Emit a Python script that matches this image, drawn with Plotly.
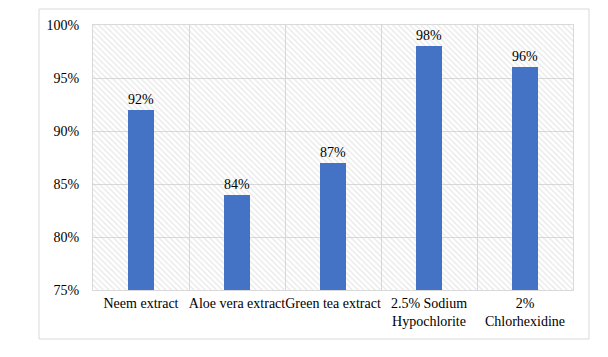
import plotly.graph_objects as go

categories = ["Neem extract", "Aloe vera extract", "Green tea extract",
              "2.5% Sodium<br>Hypochlorite", "2%<br>Chlorhexidine"]
values = [92, 84, 87, 98, 96]
value_labels = ["92%", "84%", "87%", "98%", "96%"]
y_ticks = [75, 80, 85, 90, 95, 100]
y_tick_labels = ["75%", "80%", "85%", "90%", "95%", "100%"]

FONT = "Liberation Serif"
GRID = "#d9d9d9"

fig = go.Figure()

# decorative hatched plot-area background
fig.add_trace(go.Bar(
    x=[0.5], y=[25], base=[75], width=[1], xaxis="x", yaxis="y",
    marker=dict(color="rgba(0,0,0,0)", line=dict(width=0),
                pattern=dict(shape="\\", fgcolor="#cfcfcf", bgcolor="rgba(0,0,0,0)",
                             size=4, solidity=0.3)),
    hoverinfo="skip", showlegend=False))

fig.add_trace(go.Bar(
    x=categories, y=[v - 75 for v in values], base=75, xaxis="x2", yaxis="y",
    width=0.27, marker=dict(color="#4472C4", line=dict(width=0)),
    text=value_labels, textposition="outside", cliponaxis=False,
    textfont=dict(family=FONT, size=14, color="#000000"),
    showlegend=False))

PL, PT, PW, PH = 85, 17, 480, 265

fig.update_layout(
    width=608, height=357,
    margin=dict(l=PL, r=608 - PL - PW, t=PT, b=357 - PT - PH, autoexpand=False),
    paper_bgcolor="white", plot_bgcolor="white",
    font=dict(family=FONT, size=14, color="#000000"),
    bargap=0,
    xaxis=dict(range=[0, 1], visible=False, showgrid=False),
    xaxis2=dict(overlaying="x", side="bottom", type="category",
                showgrid=True, gridcolor=GRID, gridwidth=1, tickson="boundaries",
                showline=True, linecolor=GRID, mirror=True, ticks="",
                tickangle=0, automargin=False,
                tickfont=dict(family=FONT, size=14, color="#000000")),
    yaxis=dict(range=[75, 100], tickvals=y_ticks, ticktext=y_tick_labels,
               showgrid=True, gridcolor=GRID, gridwidth=1, zeroline=False,
               showline=True, linecolor=GRID, mirror=True, ticks="",
               ticklabelstandoff=10, automargin=False,
               tickfont=dict(family=FONT, size=14, color="#000000")),
    shapes=[dict(type="rect", xref="paper", yref="paper",
                 x0=(39 - 93) / PW, x1=(589 - 93) / PW,
                 y0=-(339 - 290) / PH, y1=1 + (25 - 9) / PH,
                 line=dict(color=GRID, width=1), fillcolor="rgba(0,0,0,0)",
                 layer="below")],
)

fig.write_html("out.html")
